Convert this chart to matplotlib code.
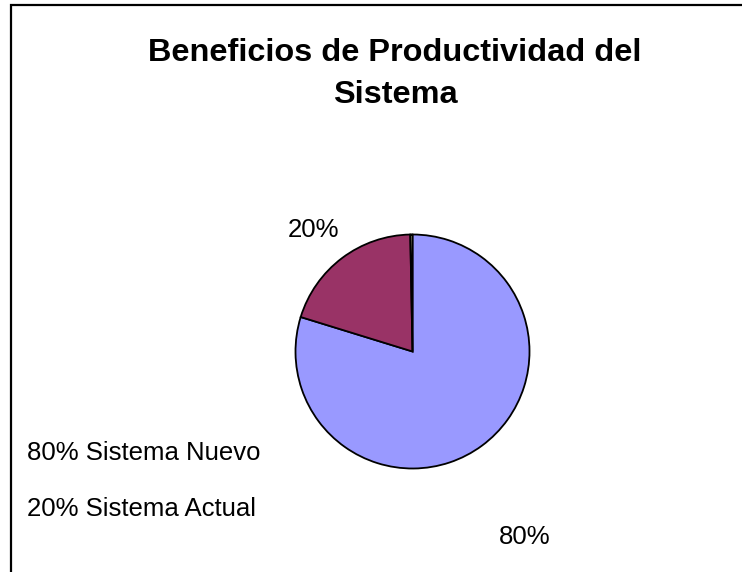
import matplotlib
matplotlib.use("Agg")
import matplotlib.pyplot as plt
from matplotlib.patches import Rectangle

plt.rcParams["font.family"] = ["Liberation Sans", "DejaVu Sans"]

title = "Beneficios de Productividad del\nSistema"
values = [80, 20, 0.3]
colors = ["#9999FF", "#993366", "#FFFFCC"]
slice_labels = ["80%", "20%", ""]
legend_labels = ["80% Sistema Nuevo", "20% Sistema Actual"]

W, H = 742, 572
fig = plt.figure(figsize=(W / 100, H / 100), dpi=100)

# chart frame (runs off the right/bottom edge like the source)
fig.patches.append(Rectangle((11 / W, -0.05), 1.0, (572 - 5) / H + 0.05,
                             transform=fig.transFigure, fill=False,
                             edgecolor="black", linewidth=1.6))

# pie area in pixels: center (412, 351), radius ~117
cx, cy, r = 412.5, 351.5, 117
ax = fig.add_axes([(cx - r) / W, (H - cy - r) / H, 2 * r / W, 2 * r / H])
wedges, texts = ax.pie(values, colors=colors, startangle=90, counterclock=False,
                       labels=slice_labels, labeldistance=1.3,
                       wedgeprops=dict(edgecolor="black", linewidth=1.3),
                       textprops=dict(fontsize=18.5))
texts[0].set_position((0.96, -1.585))
texts[1].set_position((-0.85, 1.04))
for t in texts:
    t.set_ha("center")
    t.set_va("center")
ax.set_xlim(-1, 1)
ax.set_ylim(-1, 1)
ax.set_aspect("equal")

fig.text(395 / W, 1 - 74 / H, title, ha="center", va="center",
         fontsize=23.4, fontweight="bold", linespacing=1.55)

leg = fig.legend(wedges[:2], legend_labels, loc="center left",
                 bbox_to_anchor=(4 / W, 1 - 481 / H), frameon=False,
                 handlelength=0, handletextpad=0, labelspacing=1.25,
                 fontsize=18.5)
for h in leg.legend_handles:
    h.set_visible(False)

fig.savefig("out.png", dpi=100)
